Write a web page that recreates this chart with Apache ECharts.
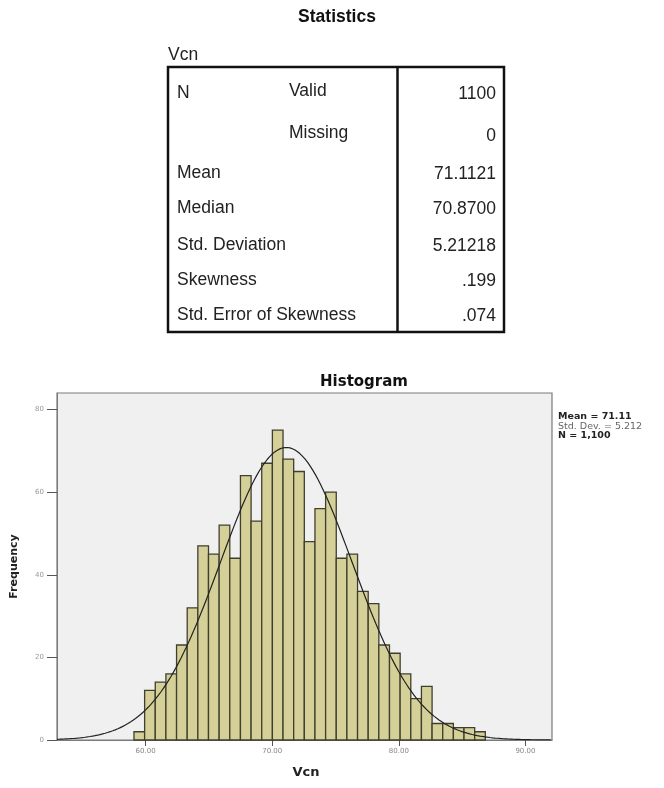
<!DOCTYPE html>
<html>
<head>
<meta charset="utf-8">
<script src="https://cdn.jsdelivr.net/npm/echarts@6/dist/echarts.min.js"></script>
<style>
html,body{margin:0;padding:0;background:#fff;}
#chart{width:664px;height:788px;}
</style>
</head>
<body>
<div id="chart"></div>
<script>
// ---- Statistics table ----
const statVariable = 'Vcn';
const statLabels = ['N', '', 'Mean', 'Median', 'Std. Deviation', 'Skewness', 'Std. Error of Skewness'];
const statSubLabels = ['Valid', 'Missing', '', '', '', '', ''];
const statValues = ['1100', '0', '71.1121', '70.8700', '5.21218', '.199', '.074'];

// ---- Histogram ----
const binStart = 59.08;      // lower edge of first bin
const binWidth = 0.841;      // width of each bin
const frequencies = [2, 12, 14, 16, 23, 32, 47, 45, 52, 44, 64, 53, 67, 75, 68, 65, 48, 56, 60, 44, 45, 36, 33, 23, 21, 16, 10, 13, 4, 4, 3, 3, 2];
const xTickValues = [60, 70, 80, 90];
const xTickLabels = ['60.00', '70.00', '80.00', '90.00'];
const yTickValues = [0, 20, 40, 60, 80];
const legendLines = ['Mean = 71.11', 'Std. Dev. = 5.212', 'N = 1,100'];
const curveMean = 71.11;
const curveSD = 5.212;
const curveN = 1100;

// bins for custom series: [lower, upper, count]
const binData = frequencies.map((c, i) => [binStart + i * binWidth, binStart + (i + 1) * binWidth, c]);

// fitted normal curve (from the stated mean / SD / N)
const curveData = [];
for (let x = 53; x <= 92.1; x += 0.2) {
  const z = (x - curveMean) / curveSD;
  curveData.push([x, curveN * binWidth * Math.exp(-0.5 * z * z) / (curveSD * Math.sqrt(2 * Math.PI))]);
}

const chart = echarts.init(document.getElementById('chart'));

const FONT = '"Liberation Sans", Arial, sans-serif';
const WIDE = '"DejaVu Sans", Verdana, sans-serif';
const graphics = [];
graphics.push({type:'text', x:337, y:17, style:{text:'Statistics', font:'bold 17.5px "Liberation Sans Narrow", ' + FONT, fill:'#111', align:'center', verticalAlign:'middle'}});
graphics.push({type:'text', x:168, y:55, style:{text:statVariable, font:'17.5px ' + FONT, fill:'#222', verticalAlign:'middle'}});
graphics.push({type:'rect', shape:{x:168, y:67, width:336, height:265}, style:{fill:'none', stroke:'#111', lineWidth:2.5}});
graphics.push({type:'line', shape:{x1:397.5, y1:67, x2:397.5, y2:332}, style:{stroke:'#111', lineWidth:2.5}});
const rowY = [93, 135, 173, 208, 245, 280, 315];
statLabels.forEach((t, i) => {
  if (t) graphics.push({type:'text', x:177, y:rowY[i], style:{text:t, font:'17.5px ' + FONT, fill:'#222', verticalAlign:'middle'}});
  if (statSubLabels[i]) graphics.push({type:'text', x:289, y:rowY[i] - 2, style:{text:statSubLabels[i], font:'17.5px ' + FONT, fill:'#222', verticalAlign:'middle'}});
  graphics.push({type:'text', x:496, y:rowY[i] + 1, style:{text:statValues[i], font:'17.5px ' + FONT, fill:'#222', align:'right', verticalAlign:'middle'}});
});
legendLines.forEach((t, i) => {
  graphics.push({type:'text', x:558, y:417 + i * 9.5, style:{text:t, font:(i === 1 ? '' : 'bold ') + '9.5px ' + WIDE, fill:i === 1 ? '#666' : '#222', verticalAlign:'middle'}});
});
graphics.push({type:'text', x:364, y:382, style:{text:'Histogram', font:'bold 15px ' + WIDE, fill:'#111', align:'center', verticalAlign:'middle'}});

chart.setOption({
  backgroundColor:'#fff',
  animation:false,
  grid:{left:57, top:393, width:495, height:347, show:true, backgroundColor:'#f0f0f0', borderColor:'#7a7a7a', borderWidth:1.2, outerBoundsMode:'none', containLabel:false},
  xAxis:{
    type:'value', min:53, max:92.1,
    name:'Vcn', nameLocation:'middle', nameGap:26,
    nameTextStyle:{fontFamily:WIDE, fontWeight:'bold', fontSize:13, color:'#222', padding:[0,0,0,3]},
    axisLine:{show:true, onZero:false, lineStyle:{color:'#7a7a7a'}},
    splitLine:{show:false},
    axisTick:{show:true, length:6, customValues:xTickValues, lineStyle:{color:'#555'}},
    axisLabel:{show:true, customValues:xTickValues, fontSize:7, color:'#888', fontFamily:WIDE, margin:8,
      formatter:(v) => xTickLabels[xTickValues.indexOf(Math.round(v))] || ''}
  },
  yAxis:{
    type:'value', min:0, max:84,
    name:'Frequency', nameLocation:'middle', nameGap:37, nameRotate:90,
    nameTextStyle:{fontFamily:WIDE, fontWeight:'bold', fontSize:11, color:'#222'},
    axisLine:{show:true, lineStyle:{color:'#7a7a7a'}},
    splitLine:{show:false},
    axisTick:{show:true, length:10, customValues:yTickValues, lineStyle:{color:'#555'}},
    axisLabel:{fontSize:7, color:'#999', fontFamily:WIDE, margin:13, customValues:yTickValues,
      formatter:(v) => String(Math.round(v))}
  },
  series:[
    {
      type:'custom',
      data:binData,
      encode:{x:[0,1], y:2},
      renderItem:function(params, api){
        const p0 = api.coord([api.value(0), 0]);
        const p1 = api.coord([api.value(1), api.value(2)]);
        return {type:'rect', shape:{x:p0[0], y:p1[1], width:p1[0]-p0[0], height:p0[1]-p1[1]},
          style:{fill:'#d5d098', stroke:'#3f3f30', lineWidth:1.3}};
      },
      z:2
    },
    {
      type:'line', data:curveData, showSymbol:false, smooth:false, clip:true,
      lineStyle:{color:'#222', width:1.2}, z:3
    }
  ],
  graphic:graphics
});
</script>
</body>
</html>
